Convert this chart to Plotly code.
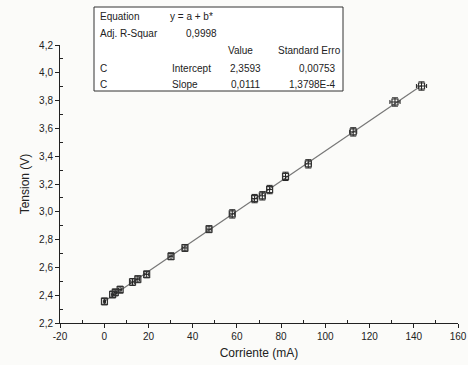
import numpy as np
import plotly.graph_objects as go

corriente = [0.1, 3.8, 5.0, 7.2, 12.8, 15.2, 19.2, 30.2, 36.5, 47.4, 57.9, 68.0, 71.5, 74.8, 82.0, 92.3, 112.6, 131.5, 143.5]
tension = [2.355, 2.405, 2.42, 2.44, 2.495, 2.515, 2.55, 2.68, 2.74, 2.875, 2.985, 3.095, 3.115, 3.16, 3.255, 3.345, 3.575, 3.79, 3.905]
err_x = [0.5, 0.6, 0.6, 0.7, 0.8, 0.8, 0.9, 0.9, 1.0, 1.0, 1.1, 1.2, 1.2, 1.3, 1.3, 1.4, 1.6, 2.3, 2.3]
err_y = [0.025, 0.025, 0.025, 0.025, 0.025, 0.025, 0.025, 0.025, 0.025, 0.025, 0.03, 0.03, 0.03, 0.03, 0.03, 0.03, 0.03, 0.03, 0.03]

x_ticks = [-20, 0, 20, 40, 60, 80, 100, 120, 140, 160]
x_tick_labels = ["-20", "0", "20", "40", "60", "80", "100", "120", "140", "160"]
y_ticks = [2.2, 2.4, 2.6, 2.8, 3.0, 3.2, 3.4, 3.6, 3.8, 4.0, 4.2]
y_tick_labels = ["2,2", "2,4", "2,6", "2,8", "3,0", "3,2", "3,4", "3,6", "3,8", "4,0", "4,2"]

slope, intercept = np.polyfit(corriente, tension, 1)
fit_x = [min(corriente), max(corriente)]
fit_y = [intercept + slope * v for v in fit_x]

font = "Liberation Sans, Arial, sans-serif"
fig = go.Figure()
fig.add_trace(go.Scatter(x=fit_x, y=fit_y, mode="lines",
                         line=dict(color="#777777", width=1.2), hoverinfo="skip"))
fig.add_trace(go.Scatter(
    x=corriente, y=tension, mode="markers",
    marker=dict(symbol="square-open", size=6, color="#333333", line=dict(width=1.2)),
    error_x=dict(type="data", array=err_x, color="#222222", thickness=1, width=2),
    error_y=dict(type="data", array=err_y, color="#222222", thickness=1, width=3),
))

L, R, T, B = 60, 458, 45, 323
W, H = R - L, B - T

def px(xp, yp):
    return (xp - L) / W, (B - yp) / H

# Results table (Origin-style fit box)
bx0, by0 = px(94, 91)
bx1, by1 = px(343, 7)
fig.add_shape(type="rect", xref="paper", yref="paper", x0=bx0, x1=bx1, y0=by0, y1=by1,
              line=dict(color="#333333", width=1), fillcolor="white", layer="above")

cells = [
    (98, 17, "Equation", "left"), (168, 17, "y = a + b*", "left"),
    (98, 33, "Adj. R-Squar", "left"), (219, 33, "0,9998", "right"),
    (255, 51, "Value", "right"), (343, 51, "Standard Erro", "right"),
    (98, 68, "C", "left"), (170, 68, "Intercept", "left"),
    (263, 68, "2,3593", "right"), (338, 68, "0,00753", "right"),
    (98, 84, "C", "left"), (170, 84, "Slope", "left"),
    (263, 84, "0,0111", "right"), (338, 84, "1,3798E-4", "right"),
]
for xp, yp, txt, al in cells:
    xx, yy = px(xp, yp)
    fig.add_annotation(x=xx, y=yy, xref="paper", yref="paper", text=txt,
                       showarrow=False, xanchor=al, yanchor="middle",
                       font=dict(family=font, size=10, color="#222222"))

fig.update_layout(
    width=468, height=365,
    margin=dict(l=L, r=468 - R, t=T, b=365 - B),
    paper_bgcolor="#fbfbf9", plot_bgcolor="#fbfbf9",
    showlegend=False,
    font=dict(family=font, size=10, color="#222222"),
)
fig.update_xaxes(range=[-20, 160], tickvals=x_ticks, ticktext=x_tick_labels,
                 automargin=False, ticklabeloverflow="allow",
                 showgrid=False, zeroline=False, showline=True, linecolor="#222222",
                 linewidth=1, ticks="outside", ticklen=4, tickcolor="#222222",
                 minor=dict(tickvals=[-10, 10, 30, 50, 70, 90, 110, 130, 150], ticks="inside",
                            ticklen=3, tickcolor="#222222"),
                 title=dict(text="Corriente (mA)", font=dict(size=12), standoff=7),
                 tickfont=dict(size=10))
fig.update_yaxes(range=[2.2, 4.2], tickvals=y_ticks, ticktext=y_tick_labels,
                 automargin=False, ticklabeloverflow="allow",
                 showgrid=False, zeroline=False, showline=True, linecolor="#222222",
                 linewidth=1, ticks="outside", ticklen=4, tickcolor="#222222",
                 minor=dict(tickvals=[2.3, 2.5, 2.7, 2.9, 3.1, 3.3, 3.5, 3.7, 3.9, 4.1],
                            ticks="inside", ticklen=3, tickcolor="#222222"),
                 title=dict(text="Tension (V)", font=dict(size=12), standoff=6),
                 tickfont=dict(size=10))

fig.write_html("out.html", config={"displayModeBar": False},
               post_script="document.body.style.margin='0';document.body.style.background='#fbfbf9';")
